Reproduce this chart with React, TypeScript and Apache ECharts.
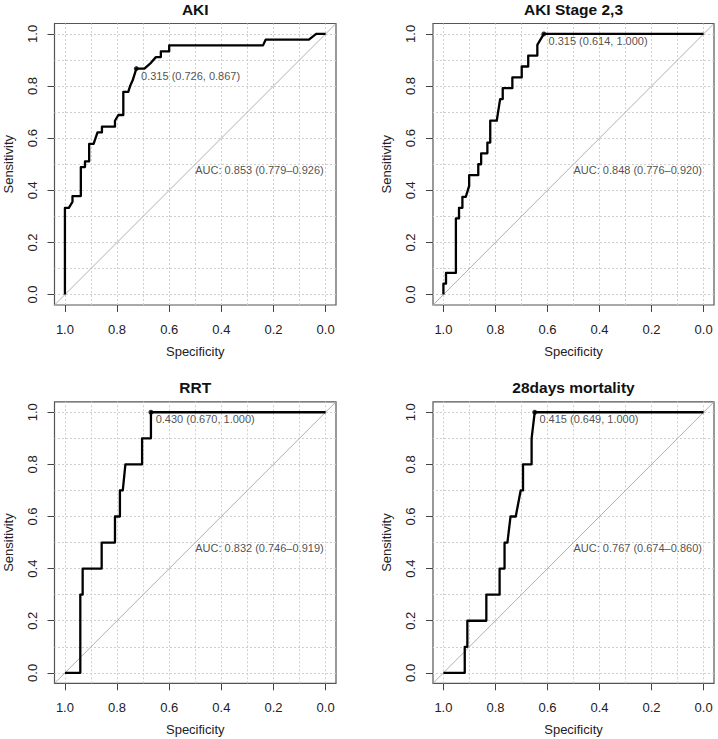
import React, { useEffect, useRef } from "react";
import * as echarts from "echarts";

// ---- data ----
const titles = ["AKI", "AKI Stage 2,3", "RRT", "28days mortality"];

const akiSpec = [1, 1, 0.985, 0.971, 0.971, 0.939, 0.939, 0.923, 0.923, 0.907, 0.907, 0.89, 0.875, 0.858, 0.858, 0.808, 0.808, 0.795, 0.776, 0.776, 0.757, 0.75, 0.74, 0.726, 0.695, 0.67, 0.651, 0.632, 0.632, 0.6, 0.6, 0.24, 0.23, 0.064, 0.036, 0];
const akiSens = [0, 0.333, 0.333, 0.356, 0.378, 0.378, 0.489, 0.489, 0.511, 0.511, 0.578, 0.578, 0.622, 0.622, 0.644, 0.644, 0.667, 0.689, 0.689, 0.778, 0.778, 0.8, 0.822, 0.867, 0.867, 0.889, 0.911, 0.911, 0.933, 0.933, 0.956, 0.956, 0.978, 0.978, 1, 1];

const stageSpec = [1, 1, 0.99, 0.99, 0.952, 0.952, 0.94, 0.94, 0.927, 0.927, 0.914, 0.901, 0.901, 0.866, 0.866, 0.855, 0.855, 0.831, 0.831, 0.82, 0.82, 0.795, 0.782, 0.772, 0.772, 0.735, 0.735, 0.699, 0.699, 0.674, 0.674, 0.639, 0.639, 0.614, 0];
const stageSens = [0, 0.042, 0.042, 0.083, 0.083, 0.292, 0.292, 0.333, 0.333, 0.375, 0.375, 0.417, 0.458, 0.458, 0.5, 0.5, 0.542, 0.542, 0.583, 0.583, 0.667, 0.667, 0.75, 0.75, 0.792, 0.792, 0.833, 0.833, 0.875, 0.875, 0.917, 0.917, 0.958, 1, 1];

const rrtSpec = [1, 0.941, 0.941, 0.932, 0.932, 0.859, 0.859, 0.808, 0.808, 0.789, 0.789, 0.778, 0.768, 0.704, 0.704, 0.67, 0.67, 0];
const rrtSens = [0, 0, 0.3, 0.3, 0.4, 0.4, 0.5, 0.5, 0.6, 0.6, 0.7, 0.7, 0.8, 0.8, 0.9, 0.9, 1, 1];

const mortSpec = [1, 0.918, 0.918, 0.908, 0.908, 0.835, 0.835, 0.784, 0.784, 0.765, 0.765, 0.754, 0.742, 0.722, 0.703, 0.694, 0.694, 0.661, 0.661, 0.649, 0];
const mortSens = [0, 0, 0.1, 0.1, 0.2, 0.2, 0.3, 0.3, 0.4, 0.4, 0.5, 0.5, 0.6, 0.6, 0.7, 0.7, 0.8, 0.8, 0.9, 1, 1];

const thresholdLabels = ["0.315", "0.315", "0.430", "0.415"];
const thresholdSpec = [0.726, 0.614, 0.67, 0.649];
const thresholdSens = [0.867, 1.0, 1.0, 1.0];

const aucText = [
  "AUC: 0.853 (0.779\u20130.926)",
  "AUC: 0.848 (0.776\u20130.920)",
  "AUC: 0.832 (0.746\u20130.919)",
  "AUC: 0.767 (0.674\u20130.860)",
];

const tickValues = [0, 0.2, 0.4, 0.6, 0.8, 1.0];
const gridValues = [0, 0.1, 0.2, 0.3, 0.4, 0.5, 0.6, 0.7, 0.8, 0.9, 1.0];
const axisMin = -0.04;
const axisMax = 1.04;

const specs = [akiSpec, stageSpec, rrtSpec, mortSpec];
const senss = [akiSens, stageSens, rrtSens, mortSens];

// ---- layout ----
const gridBoxes = [
  { left: 54.5, top: 23.5, width: 281.5, height: 281.5 },
  { left: 433, top: 23.5, width: 281, height: 281.5 },
  { left: 54.5, top: 401.8, width: 281.5, height: 281.5 },
  { left: 433, top: 401.8, width: 281, height: 281.5 },
];

const FONT = "'Liberation Sans', Arial, Helvetica, sans-serif";

export default function App() {
  const ref = useRef<HTMLDivElement>(null);

  useEffect(() => {
    if (!ref.current) return;
    const chart = echarts.init(ref.current, null, { renderer: "svg" });

    const grids: any[] = [];
    const xAxes: any[] = [];
    const yAxes: any[] = [];
    const series: any[] = [];
    const titleOpts: any[] = [];

    for (let i = 0; i < 4; i++) {
      const g = gridBoxes[i];
      grids.push({
        ...g,
        show: true,
        borderColor: "#555",
        borderWidth: 1.2,
        backgroundColor: "transparent",
      });
      titleOpts.push({
        text: titles[i],
        left: g.left + g.width / 2,
        top: g.top - 22,
        textAlign: "center",
        padding: 0,
        textStyle: { fontFamily: FONT, fontWeight: "bold", fontSize: 15.5, color: "#111" },
      });
      const axisCommon = {
        gridIndex: i,
        type: "value",
        min: axisMin,
        max: axisMax,
        nameLocation: "middle",
        nameGap: 40,
        nameTextStyle: { fontFamily: FONT, fontSize: 13, color: "#222" },
        axisLine: { show: false, onZero: false },
        axisTick: {
          show: true,
          customValues: tickValues,
          length: 7,
          inside: false,
          lineStyle: { color: "#444", width: 1 },
        },
        splitLine: { show: false },
      };
      xAxes.push({
        ...axisCommon,
        inverse: true,
        position: "bottom",
        name: "Specificity",
        axisLabel: {
          show: true,
          customValues: tickValues,
          margin: 18,
          fontFamily: FONT,
          fontSize: 13,
          color: "#222",
          formatter: (v: number) => v.toFixed(1),
        },
      });
      yAxes.push({
        ...axisCommon,
        position: "left",
        name: "Sensitivity",
        axisLabel: {
          show: true,
          customValues: tickValues,
          margin: 16,
          rotate: 90,
          fontFamily: FONT,
          fontSize: 13,
          color: "#222",
          formatter: (v: number) => v.toFixed(1),
        },
      });

      // diagonal + dotted reference grid
      series.push({
        type: "line",
        xAxisIndex: i,
        yAxisIndex: i,
        data: [
          [axisMax, axisMin],
          [axisMin, axisMax],
        ],
        symbol: "none",
        silent: true,
        z: 2,
        lineStyle: { color: "#b0b0b0", width: 1 },
        markLine: {
          silent: true,
          symbol: "none",
          label: { show: false },
          lineStyle: { color: "#d0d0d0", width: 1, type: [2, 2] },
          data: [
            ...gridValues.map((v) => ({ xAxis: v })),
            ...gridValues.map((v) => ({ yAxis: v })),
          ],
          z: 1,
        },
      });

      // ROC curve
      const spec = specs[i];
      const sens = senss[i];
      series.push({
        type: "line",
        xAxisIndex: i,
        yAxisIndex: i,
        data: spec.map((s, k) => [s, sens[k]]),
        symbol: "none",
        silent: true,
        z: 4,
        lineStyle: { color: "#000", width: 2.3, join: "round" },
      });

      // threshold point + label
      series.push({
        type: "scatter",
        xAxisIndex: i,
        yAxisIndex: i,
        data: [[thresholdSpec[i], thresholdSens[i]]],
        symbol: "circle",
        symbolSize: 5,
        z: 5,
        itemStyle: { color: "#000" },
        label: {
          show: true,
          position: [7.2, 9.5],
          align: "left",
          verticalAlign: "middle",
          fontFamily: FONT,
          fontSize: 11,
          color: "#222",
          formatter: () =>
            `${thresholdLabels[i]} (${thresholdSpec[i].toFixed(3)}, ${thresholdSens[i].toFixed(3)})`,
        },
      });

      // AUC text
      series.push({
        type: "scatter",
        xAxisIndex: i,
        yAxisIndex: i,
        data: [[0.5, 0.5]],
        symbolSize: 0,
        z: 5,
        label: {
          show: true,
          position: [0, 0],
          align: "left",
          verticalAlign: "top",
          fontFamily: FONT,
          fontSize: 11,
          color: "#222",
          formatter: () => aucText[i],
        },
      });
    }

    chart.setOption({
      animation: false,
      backgroundColor: "#fff",
      title: titleOpts,
      grid: grids,
      xAxis: xAxes,
      yAxis: yAxes,
      series,
    });

    return () => chart.dispose();
  }, []);

  return (
    <div
      ref={ref}
      style={{ position: "fixed", left: 0, top: 0, width: 718, height: 739 }}
    />
  );
}
